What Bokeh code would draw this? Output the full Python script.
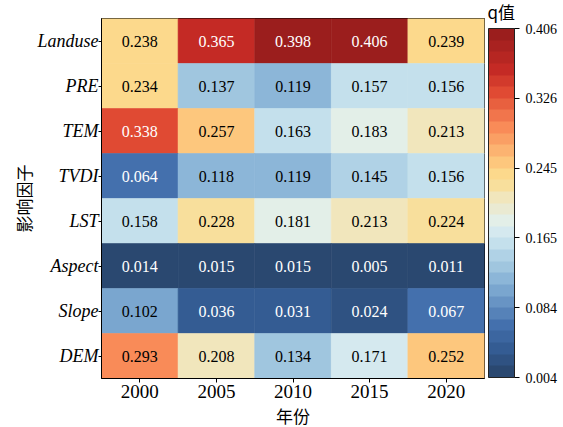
import numpy as np
from bokeh.plotting import figure
from bokeh.models import (ColumnDataSource, LinearColorMapper, ColorBar,
                          FixedTicker, PrintfTickFormatter, Title)
from bokeh.core.properties import value
from bokeh.embed import file_html
from bokeh.resources import INLINE

# ---- data: q statistic of each driving factor by year ----
years = ["2000", "2005", "2010", "2015", "2020"]
factors = ["Landuse", "PRE", "TEM", "TVDI", "LST", "Aspect", "Slope", "DEM"]

q_landuse = [0.238, 0.365, 0.398, 0.406, 0.239]
q_pre = [0.234, 0.137, 0.119, 0.157, 0.156]
q_tem = [0.338, 0.257, 0.163, 0.183, 0.213]
q_tvdi = [0.064, 0.118, 0.119, 0.145, 0.156]
q_lst = [0.158, 0.228, 0.181, 0.213, 0.224]
q_aspect = [0.014, 0.015, 0.015, 0.005, 0.011]
q_slope = [0.102, 0.036, 0.031, 0.024, 0.067]
q_dem = [0.293, 0.208, 0.134, 0.171, 0.252]

q_rows = [q_landuse, q_pre, q_tem, q_tvdi, q_lst, q_aspect, q_slope, q_dem]

# colour scale limits and colourbar ticks
q_low, q_high = 0.004, 0.406
n_levels = 30

# ---- style: diverging blue -> yellow -> red palette, 30 discrete levels ----
anchors = [
    (0.000, "#2a4870"), (0.034, "#2f5282"), (0.069, "#345c93"),
    (0.138, "#4470ad"), (0.241, "#7aa6cf"), (0.276, "#8cb6d8"),
    (0.310, "#a0c6df"), (0.345, "#b0d2e6"), (0.379, "#c4e0ec"),
    (0.414, "#d5e9ef"), (0.448, "#e3efe8"), (0.517, "#f1e6bc"),
    (0.552, "#f8df9c"), (0.586, "#fcd98c"), (0.621, "#fdc77d"),
    (0.724, "#f98b58"), (0.828, "#e04a33"), (0.897, "#c42a25"),
    (1.000, "#9b1e1d"),
]


def hex_to_rgb(h):
    return np.array([int(h[i:i + 2], 16) for i in (1, 3, 5)], dtype=float)


def build_palette(n):
    pos = np.array([a[0] for a in anchors])
    rgb = np.array([hex_to_rgb(a[1]) for a in anchors])
    out = []
    for t in np.linspace(0, 1, n):
        c = [np.interp(t, pos, rgb[:, k]) for k in range(3)]
        out.append("#%02x%02x%02x" % tuple(int(round(v)) for v in c))
    return out


palette = build_palette(n_levels)
mapper = LinearColorMapper(palette=palette, low=q_low, high=q_high)

# ---- long-form table for the heatmap ----
xs, ys, qs, labels, tcolors = [], [], [], [], []
for f, row in zip(factors, q_rows):
    for y, q in zip(years, row):
        xs.append(y)
        ys.append(f)
        qs.append(q)
        labels.append("%.3f" % q)
        # light text on the darkest blues and reds
        tcolors.append("white" if (q < 0.09 or q > 0.32) else "black")

src = ColumnDataSource(dict(year=xs, factor=ys, q=qs, label=labels, tc=tcolors))

serif = "Liberation Serif"
cjk = "Noto Sans CJK SC"

p = figure(x_range=years, y_range=list(reversed(factors)),
           frame_width=383, frame_height=360,
           min_border_left=101, min_border_right=79,
           min_border_top=18, min_border_bottom=49,
           output_backend="svg", toolbar_location=None)

fill = {"field": "q", "transform": mapper}
p.rect(x="year", y="factor", width=1, height=1, source=src,
       fill_color=fill, line_color=fill, line_width=0.6)
p.text(x="year", y="factor", text="label", source=src,
       text_align="center", text_baseline="middle",
       text_font=value(serif), text_font_size="16px", text_color="tc")

p.grid.visible = False
p.outline_line_color = "black"
p.outline_line_width = 1
p.axis.axis_line_color = "black"
p.axis.major_tick_line_color = "black"
p.axis.major_tick_in = 0
p.axis.major_tick_out = 4
p.axis.major_label_text_color = "black"
p.axis.axis_label_text_color = "black"

p.xaxis.major_label_text_font = serif
p.xaxis.major_label_text_font_size = "19px"
p.xaxis.major_label_standoff = 2
p.xaxis.axis_label = "年份"
p.xaxis.axis_label_text_font = cjk
p.xaxis.axis_label_text_font_style = "normal"
p.xaxis.axis_label_text_font_size = "17px"
p.xaxis.axis_label_standoff = 2

p.yaxis.major_label_text_font = serif
p.yaxis.major_label_text_font_style = "italic"
p.yaxis.major_label_text_font_size = "18px"
p.yaxis.major_label_standoff = 0
p.yaxis.major_tick_out = 3
p.yaxis.axis_label = "影响因子"
p.yaxis.axis_label_text_font = cjk
p.yaxis.axis_label_text_font_style = "normal"
p.yaxis.axis_label_text_font_size = "17px"
p.yaxis.axis_label_standoff = -2

# colourbar sits just right of the frame
cbar = ColorBar(color_mapper=mapper,
                ticker=FixedTicker(ticks=list(np.linspace(q_low, q_high, 6))),
                formatter=PrintfTickFormatter(format="%.3f"),
                orientation="vertical",
                width=26, height=349, padding=0, margin=0,
                location=(387, 1),
                major_label_text_font=serif, major_label_text_font_size="14px",
                major_label_text_color="black",
                label_standoff=6,
                major_tick_in=0, major_tick_out=5,
                major_tick_line_color="black",
                bar_line_color="#222222", bar_line_width=1,
                background_fill_alpha=0, border_line_color=None)
p.add_layout(cbar, "center")

# colourbar heading in the top margin, over the bar
cbar_title = Title(text="q值", align="left", offset=386, standoff=-11,
                   text_font=cjk, text_font_size="17px",
                   text_font_style="normal", text_color="black")
p.add_layout(cbar_title, "above")

open("out.html", "w").write(file_html(p, INLINE))
